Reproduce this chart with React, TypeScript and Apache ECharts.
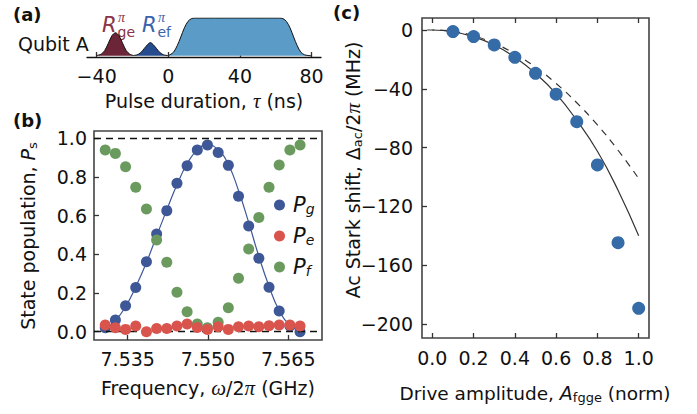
import React, { useEffect, useRef } from "react";
import * as echarts from "echarts";

// ---------- Panel (a): pulse sequence (time in ns, normalised amplitude) ----------
const geTime = [-40, -37.5, -35.5, -33.5, -31.5, -29.5, -27.5, -25.5, -23.5, -21.5, -19.5];
const geLevel = [0.01, 0.045, 0.14, 0.33, 0.53, 0.61, 0.53, 0.33, 0.14, 0.045, 0.01];
const efTime = [-19.5, -17.5, -15.5, -13.5, -11.5, -10, -8.5, -6.5, -4.5, -2.5, -0.5];
const efLevel = [0.01, 0.025, 0.08, 0.19, 0.3, 0.35, 0.3, 0.19, 0.08, 0.025, 0.01];
const fggeTime = [-0.5, 1, 3, 5, 7, 9, 11, 13, 15, 62, 64, 66, 68, 70, 72, 74, 76, 78, 80];
const fggeLevel = [0.01, 0.03, 0.1, 0.27, 0.5, 0.74, 0.91, 0.985, 1, 1, 0.985, 0.91, 0.74, 0.5, 0.27, 0.1, 0.03, 0.01, 0.0];
const pulseTicks = [-40, 0, 40, 80];

// ---------- Panel (b): populations vs frequency ----------
const freqGHz = [7.5308, 7.5327, 7.5346, 7.5365, 7.5385, 7.5404, 7.5423, 7.5442, 7.5461, 7.548, 7.5499, 7.5519, 7.5538, 7.5557, 7.5576, 7.5595, 7.5614, 7.5633, 7.5653, 7.5672];
const popG = [0.02, 0.06, 0.134, 0.228, 0.362, 0.505, 0.626, 0.767, 0.858, 0.939, 0.965, 0.927, 0.86, 0.7, 0.546, 0.38, 0.23, 0.107, 0.03, 0.0];
const popE = [0.035, 0.021, 0.012, 0.029, 0.0, 0.017, 0.017, 0.029, 0.04, 0.022, 0.012, 0.026, 0.012, 0.026, 0.029, 0.026, 0.031, 0.035, 0.035, 0.029];
const popF = [0.939, 0.922, 0.853, 0.747, 0.634, 0.474, 0.359, 0.204, 0.103, 0.04, 0.02, 0.049, 0.124, 0.276, 0.428, 0.591, 0.747, 0.862, 0.939, 0.965];
const fitG = [0.015, 0.058, 0.13, 0.232, 0.358, 0.495, 0.63, 0.76, 0.868, 0.94, 0.967, 0.94, 0.865, 0.73, 0.565, 0.39, 0.235, 0.11, 0.035, 0.002];
const freqTicks = [7.535, 7.55, 7.565];
const popTicks = [0, 0.2, 0.4, 0.6, 0.8, 1.0];

// ---------- Panel (c): ac Stark shift vs drive amplitude ----------
const ampData = [0.1, 0.2, 0.3, 0.4, 0.5, 0.6, 0.7, 0.8, 0.9, 1.0];
const shiftData = [-1.1, -4.5, -10.2, -18.6, -29.5, -43.7, -62.4, -91.8, -144.7, -189.3];
const modelAmp = [0, 0.1, 0.2, 0.3, 0.4, 0.5, 0.6, 0.7, 0.8, 0.9, 1.0];
const modelFull = [0, -1.2, -4.6, -10.2, -18.5, -29.5, -43.5, -61.5, -82.5, -109, -140];
const dashAmp = [-0.025, 0, 0.1, 0.2, 0.3, 0.4, 0.5, 0.6, 0.7, 0.8, 0.9, 1.0];
const modelSimple = [0, 0, -1, -4, -9.1, -16.2, -25.3, -36.4, -49.5, -64.6, -81.8, -101];
const ampTicks = [0, 0.2, 0.4, 0.6, 0.8, 1.0];
const shiftTicks = [0, -40, -80, -120, -160, -200];

const FONT = "DejaVu Sans";
const SERIF = "Liberation Serif";
const FS = 19;
const zip = (a: number[], b: number[]) => a.map((v, i) => [v, b[i]]);
const minus = (v: number, d = 0) => (v < 0 ? "\u2212" + Math.abs(v).toFixed(d) : v.toFixed(d));

const tickStyle = { show: true, inside: true, length: 5, lineStyle: { color: "#333", width: 1.3 } };
const labelBase = { fontFamily: FONT, fontSize: FS, color: "#111" };
const mathRich = {
  m: { fontFamily: SERIF, fontStyle: "italic", fontSize: 21, fill: "#111" },
  i: { fontFamily: FONT, fontStyle: "italic", fontSize: FS, fill: "#111" },
  sub: { fontFamily: FONT, fontSize: 13, fill: "#111", verticalAlign: "bottom", lineHeight: 12 },
};

function txt(text: string, x: number, y: number, extra: any = {}, rot = 0): any {
  return {
    type: "text",
    x,
    y,
    rotation: rot,
    style: {
      text,
      fontFamily: FONT,
      fontSize: FS,
      fill: "#111",
      align: "center",
      verticalAlign: "middle",
      rich: mathRich,
      lineHeight: 22,
      ...extra,
    },
  };
}

// R with a superscript pi and a subscript label (three separate texts)
function pulseLabel(sub: string, x: number, y: number, color: string): any[] {
  return [
    txt("R", x, y, { align: "left", fontStyle: "italic", fontSize: 21, fill: color, lineHeight: 16 }),
    txt("\u03c0", x + 16, y - 8, { align: "left", fontFamily: SERIF, fontStyle: "italic", fontSize: 14, fill: color, lineHeight: 12 }),
    txt(sub, x + 15.5, y + 7, { align: "left", fontSize: 14, fill: color, lineHeight: 12 }),
  ];
}

export default function App() {
  const ref = useRef<HTMLDivElement>(null);
  useEffect(() => {
    if (!ref.current) return;
    const chart = echarts.init(ref.current, null, { renderer: "svg" });
    const option: any = {
      animation: false,
      backgroundColor: "#fff",
      grid: [
        { left: 87, top: 18, width: 234, height: 39 },
        { left: 94, top: 131, width: 228, height: 209, show: true, borderColor: "#444", borderWidth: 1.6, backgroundColor: "transparent" },
        { left: 422, top: 18, width: 227, height: 320, show: true, borderColor: "#444", borderWidth: 1.6, backgroundColor: "transparent" },
      ],
      xAxis: [
        {
          gridIndex: 0, type: "value", min: -45.4, max: 85.3,
          axisLine: { show: true, onZero: false, lineStyle: { color: "#111", width: 1.3 } },
          axisTick: { ...tickStyle, customValues: pulseTicks },
          axisLabel: { ...labelBase, margin: 9, customValues: pulseTicks, formatter: (v: number) => minus(v) },
          splitLine: { show: false },
        },
        {
          gridIndex: 1, type: "value", min: 7.5287, max: 7.5713,
          axisLine: { show: false, onZero: false },
          axisTick: { ...tickStyle, customValues: freqTicks },
          axisLabel: { ...labelBase, margin: 9, customValues: freqTicks, formatter: (v: number) => v.toFixed(3) },
          splitLine: { show: false },
        },
        {
          gridIndex: 2, type: "value", min: -0.05, max: 1.05,
          axisLine: { show: false, onZero: false },
          axisTick: { ...tickStyle, customValues: ampTicks },
          axisLabel: { ...labelBase, margin: 10, customValues: ampTicks, formatter: (v: number) => v.toFixed(1) },
          splitLine: { show: false },
        },
        {
          gridIndex: 2, type: "value", position: "top", min: -0.05, max: 1.05,
          axisLine: { show: false, onZero: false },
          axisTick: { ...tickStyle, customValues: ampTicks },
          axisLabel: { show: false },
          splitLine: { show: false },
        },
      ],
      yAxis: [
        { gridIndex: 0, type: "value", min: -0.03, max: 1, show: false, axisLine: { onZero: false } },
        {
          gridIndex: 1, type: "value", min: -0.0429, max: 1.0377,
          axisLine: { show: false, onZero: false },
          axisTick: { ...tickStyle, customValues: popTicks },
          axisLabel: { ...labelBase, margin: 7, customValues: popTicks, formatter: (v: number) => v.toFixed(1) },
          splitLine: { show: false },
        },
        {
          gridIndex: 2, type: "value", min: -209.5, max: 8.16,
          axisLine: { show: false, onZero: false },
          axisTick: { ...tickStyle, customValues: shiftTicks },
          axisLabel: { ...labelBase, margin: 9, customValues: shiftTicks, formatter: (v: number) => minus(v) },
          splitLine: { show: false },
        },
      ],
      legend: {
        data: ["Pg", "Pe", "Pf"],
        orient: "vertical",
        left: 269,
        top: 189,
        itemWidth: 11,
        itemHeight: 11,
        itemGap: 9,
        icon: "circle",
        itemStyle: { opacity: 1 },
        formatter: (name: string) => `{i|P}{s|${name.slice(1)}}`,
        textStyle: {
          fontFamily: FONT,
          fontSize: FS,
          lineHeight: 22,
          padding: [0, 0, 0, 3],
          rich: {
            i: { fontFamily: FONT, fontStyle: "italic", fontSize: 21, color: "#111", lineHeight: 22 },
            s: { fontFamily: FONT, fontStyle: "italic", fontSize: 14, color: "#111", verticalAlign: "bottom", lineHeight: 12 },
          },
        },
      },
      series: [
        {
          type: "line", xAxisIndex: 0, yAxisIndex: 0, data: zip(geTime, geLevel), smooth: 0.3, symbol: "none",
          lineStyle: { color: "#111", width: 1 }, areaStyle: { color: "#6b2536", opacity: 1 }, z: 3,
        },
        {
          type: "line", xAxisIndex: 0, yAxisIndex: 0, data: zip(efTime, efLevel), smooth: 0.3, symbol: "none",
          lineStyle: { color: "#111", width: 1 }, areaStyle: { color: "#254c8f", opacity: 1 }, z: 3,
        },
        {
          type: "line", xAxisIndex: 0, yAxisIndex: 0, data: zip(fggeTime, fggeLevel), smooth: 0.3, symbol: "none",
          lineStyle: { color: "#111", width: 1 }, areaStyle: { color: "#5b9bc7", opacity: 1 }, z: 3,
        },
        {
          name: "fit", type: "line", xAxisIndex: 1, yAxisIndex: 1, data: zip(freqGHz, fitG), smooth: true, symbol: "none",
          lineStyle: { color: "#3d5899", width: 1.2 }, z: 2,
          markLine: {
            silent: true, symbol: "none", label: { show: false },
            lineStyle: { color: "#111", type: [7, 5], width: 1.3 },
            data: [{ yAxis: 1 }, { yAxis: 0 }],
          },
        },
        {
          name: "Pg", type: "scatter", xAxisIndex: 1, yAxisIndex: 1, data: zip(freqGHz, popG), symbolSize: 11,
          itemStyle: { color: "#3e5797", opacity: 1 }, z: 3,
        },
        {
          name: "Pf", type: "scatter", xAxisIndex: 1, yAxisIndex: 1, data: zip(freqGHz, popF), symbolSize: 11,
          itemStyle: { color: "#6b9a5f", opacity: 1 }, z: 4,
        },
        {
          name: "Pe", type: "scatter", xAxisIndex: 1, yAxisIndex: 1, data: zip(freqGHz, popE), symbolSize: 11,
          itemStyle: { color: "#d9544c", opacity: 1 }, z: 5,
        },
        {
          type: "line", xAxisIndex: 2, yAxisIndex: 2, data: zip(dashAmp, modelSimple), smooth: true, symbol: "none",
          lineStyle: { color: "#333", width: 1.2, type: [7, 6] }, z: 2,
        },
        {
          type: "line", xAxisIndex: 2, yAxisIndex: 2, data: zip(modelAmp, modelFull), smooth: true, symbol: "none",
          lineStyle: { color: "#333", width: 1.2 }, z: 2,
        },
        {
          type: "scatter", xAxisIndex: 2, yAxisIndex: 2, data: zip(ampData, shiftData), symbolSize: 13,
          itemStyle: { color: "#356ba6", opacity: 1 }, z: 3,
        },
      ],
      graphic: [
        txt("(a)", 13, 14, { fontWeight: "bold", align: "left", fontSize: 18 }),
        txt("(b)", 13, 120, { fontWeight: "bold", align: "left", fontSize: 18 }),
        txt("(c)", 333, 12, { fontWeight: "bold", align: "left", fontSize: 18 }),
        txt("Qubit A", 18, 44, { align: "left" }),
        ...pulseLabel("ge", 102, 25, "#8a3446"),
        ...pulseLabel("ef", 142, 25, "#3a63ad"),
        ...pulseLabel("fgge", 220, 38, "#111"),
        // axis titles
        txt("Pulse duration, {m|\u03c4} (ns)", 204, 101),
        txt("Frequency, {m|\u03c9}/2{m|\u03c0} (GHz)", 208, 388),
        txt("State population, {i|P}{sub|s}", 28, 236, {}, Math.PI / 2),
        txt("Ac Stark shift, \u0394{sub|ac}/2{m|\u03c0} (MHz)", 353, 170, {}, Math.PI / 2),
        txt("Drive amplitude, {i|A}{sub|fgge} (norm)", 535, 393, { fontSize: 18.5 }),
      ],
    };
    chart.setOption(option);
    return () => chart.dispose();
  }, []);
  return <div ref={ref} style={{ position: "fixed", left: 0, top: 0, width: 697, height: 414 }} />;
}
